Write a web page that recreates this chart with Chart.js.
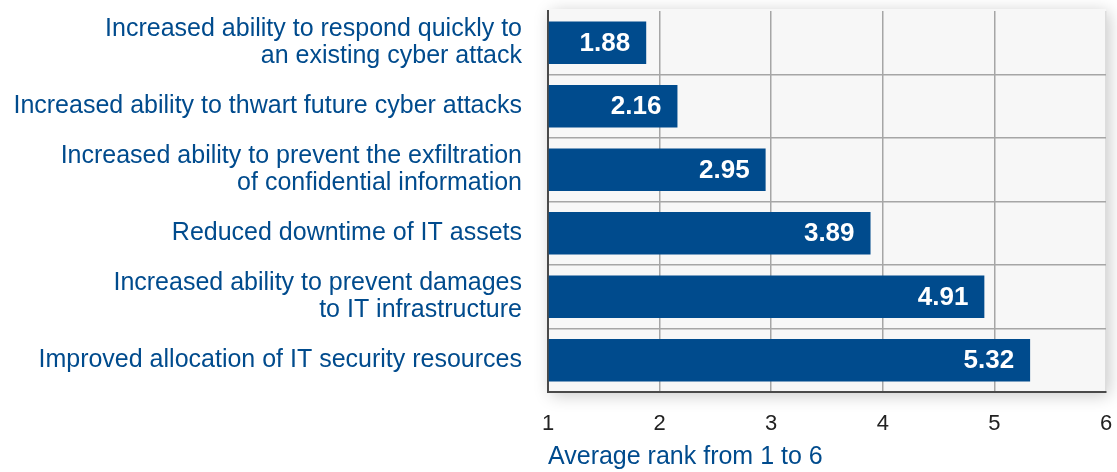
<!DOCTYPE html>
<html>
<head>
    <title>Average rank chart</title>
    <script src="https://cdn.jsdelivr.net/npm/chart.js"></script>
    <style>
        html, body { margin: 0; padding: 0; background: #fff; }
        #wrap { width: 1117px; height: 472px; position: relative; }
    </style>
</head>
<body>

<div id="wrap">
    <canvas id="rankChart"></canvas>
</div>

<script>

/* DATA */
const categories = [
    ["Increased ability to respond quickly to", "an existing cyber attack"],
    "Increased ability to thwart future cyber attacks",
    ["Increased ability to prevent the exfiltration", "of confidential information"],
    "Reduced downtime of IT assets",
    ["Increased ability to prevent damages", "to IT infrastructure"],
    "Improved allocation of IT security resources"
];
const avgRank = [1.88, 2.16, 2.95, 3.89, 4.91, 5.32];
const xTicks = [1, 2, 3, 4, 5, 6];

const BLUE = "#004b8d";
const FONT = "'Liberation Sans', Arial, sans-serif";

/* panel background with drop shadow */
const panelPlugin = {
    id: "panel",
    beforeDraw(chart) {
        const { ctx, chartArea: a } = chart;
        ctx.save();
        ctx.shadowColor = "rgba(0,0,0,0.22)";
        ctx.shadowBlur = 16;
        ctx.shadowOffsetX = 3;
        ctx.shadowOffsetY = 3;
        ctx.fillStyle = "#f7f7f7";
        ctx.fillRect(a.left, a.top - 2, a.right - a.left, a.bottom - a.top + 2);
        ctx.restore();
    }
};

/* value labels inside bar ends */
const valuePlugin = {
    id: "values",
    afterDatasetsDraw(chart) {
        const { ctx } = chart;
        const meta = chart.getDatasetMeta(0);
        ctx.save();
        ctx.fillStyle = "#ffffff";
        ctx.font = "bold 26px " + FONT;
        ctx.textAlign = "right";
        ctx.textBaseline = "middle";
        meta.data.forEach((bar, i) => {
            ctx.fillText(avgRank[i].toFixed(2), bar.x - 16, bar.y + 1);
        });
        ctx.restore();
    }
};

new Chart(document.getElementById("rankChart"), {
    type: "bar",
    data: {
        labels: categories,
        datasets: [{
            data: avgRank,
            base: 1,
            backgroundColor: BLUE,
            borderWidth: 0,
            barPercentage: 0.67,
            categoryPercentage: 1.0
        }]
    },
    options: {
        indexAxis: "y",
        responsive: true,
        maintainAspectRatio: false,
        animation: false,
        layout: { padding: { top: 11, right: 11, bottom: 0, left: 0 } },
        plugins: {
            legend: { display: false },
            tooltip: { enabled: false }
        },
        scales: {
            x: {
                type: "linear",
                min: 1,
                max: 6,
                afterBuildTicks(scale) {
                    scale.ticks = xTicks.map(v => ({ value: v }));
                },
                afterFit(scale) {
                    scale.height = 80;
                    scale.paddingLeft = 0;
                    scale.paddingRight = 0;
                },
                grid: {
                    drawTicks: false,
                    lineWidth: 1.5,
                    color: ctx => ctx.index === xTicks.length - 1 ? "#dddddd" : "#a6a6a6"
                },
                border: { display: true, color: "#4a4a4a", width: 2 },
                ticks: {
                    color: "#222222",
                    padding: 19,
                    maxRotation: 0,
                    font: { family: FONT, size: 22 }
                },
                title: {
                    display: true,
                    text: "Average rank from 1 to 6",
                    align: "start",
                    color: BLUE,
                    padding: { top: 0, bottom: 0 },
                    font: { family: FONT, size: 25 }
                }
            },
            y: {
                afterFit(scale) {
                    scale.width = 548;
                    scale.paddingTop = 0;
                    scale.paddingBottom = 0;
                },
                grid: {
                    drawTicks: false,
                    offset: true,
                    lineWidth: 1.5,
                    color: ctx => ctx.index === 0 ? "rgba(0,0,0,0)" : "#a6a6a6"
                },
                border: { display: true, color: "#4a4a4a", width: 2 },
                ticks: {
                    autoSkip: false,
                    color: BLUE,
                    padding: 26,
                    font: { family: FONT, size: 25, lineHeight: 1.08 }
                }
            }
        }
    },
    plugins: [panelPlugin, valuePlugin]
});

</script>

</body>
</html>
